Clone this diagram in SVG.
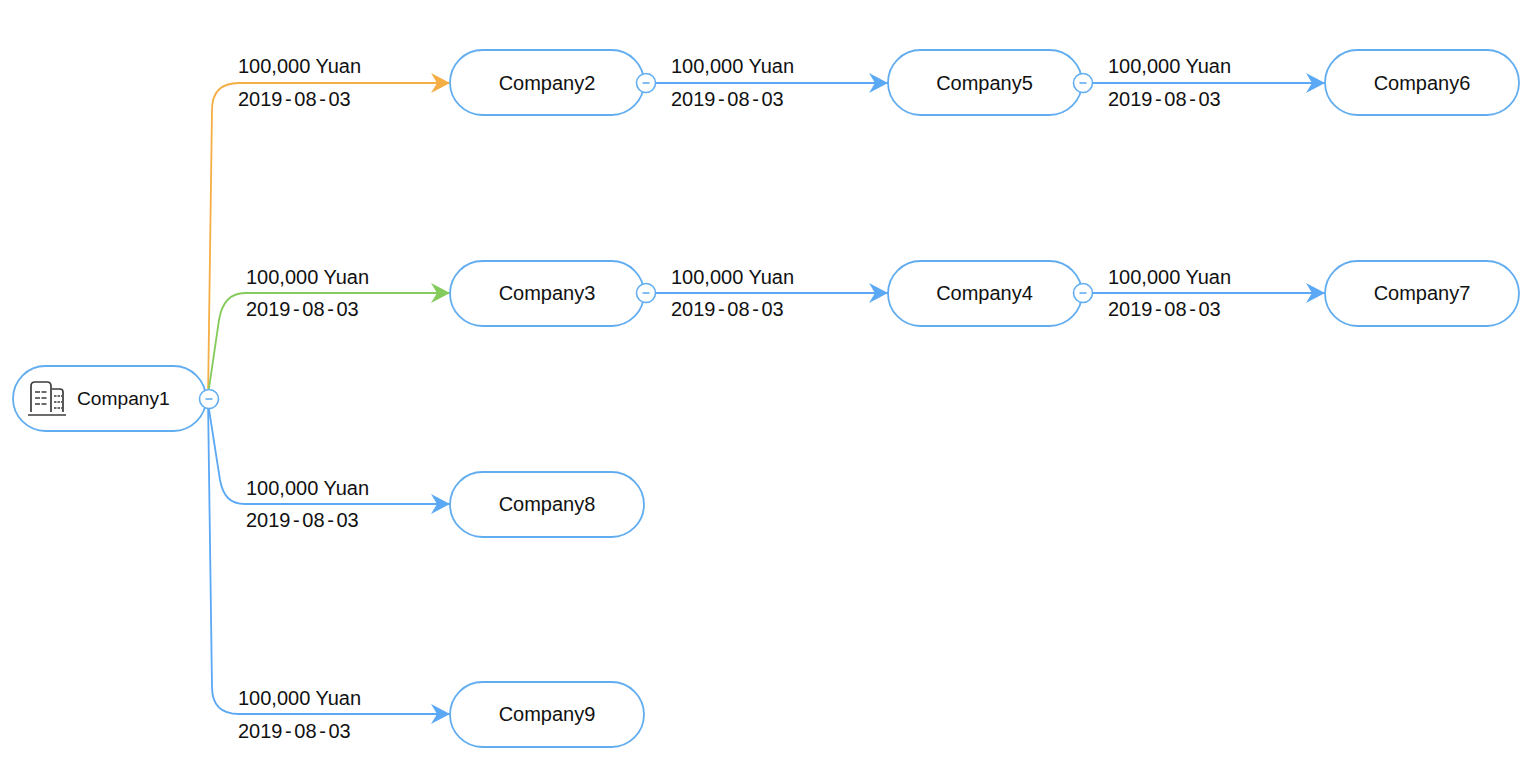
<svg xmlns="http://www.w3.org/2000/svg" width="1538" height="762" viewBox="0 0 1538 762">
<defs>
<marker id="ab" markerUnits="userSpaceOnUse" markerWidth="22" markerHeight="22" refX="20" refY="11" orient="auto"><path d="M1 1L20 11L1 21L7 11Z" fill="#5BA8F5"/></marker>
<marker id="ao" markerUnits="userSpaceOnUse" markerWidth="22" markerHeight="22" refX="20" refY="11" orient="auto"><path d="M1 1L20 11L1 21L7 11Z" fill="#F5AE45"/></marker>
<marker id="ag" markerUnits="userSpaceOnUse" markerWidth="22" markerHeight="22" refX="20" refY="11" orient="auto"><path d="M1 1L20 11L1 21L7 11Z" fill="#85CB5C"/></marker>
</defs>
<style>
.n{fill:#fff;stroke:#62ADF0;stroke-width:1.8}
.c{fill:none;stroke:#5BA8F5;stroke-width:1.8}
text{font-family:"Liberation Sans",Arial,sans-serif;font-size:20px;fill:#111}
.t{text-anchor:middle}
.h{letter-spacing:2.6px}
.b{fill:#fff;stroke:#62ADF0;stroke-width:1.6}
.m{stroke:#62ADF0;stroke-width:1.6}
.i{fill:none;stroke:#3c3c3c;stroke-width:1.7}
</style>
<rect width="1538" height="762" fill="#fff"/>
<g id="connectors">
<path class="c" style="stroke:#F5AE45" marker-end="url(#ao)" d="M208 399L212 110Q212 83 239 83L450 83"/>
<path class="c" style="stroke:#85CB5C" marker-end="url(#ag)" d="M208 395L219 320C222 302 230 293 245 293L450 293"/>
<path class="c" marker-end="url(#ab)" d="M208 403L220 480C223 496 230 504 245 504L450 504"/>
<path class="c" marker-end="url(#ab)" d="M208 399L212 687Q212 714 239 714L450 714"/>
<path class="c" marker-end="url(#ab)" d="M646 83H888"/>
<path class="c" marker-end="url(#ab)" d="M1083 83H1325"/>
<path class="c" marker-end="url(#ab)" d="M646 293H888"/>
<path class="c" marker-end="url(#ab)" d="M1083 293H1325"/>
</g>
<g id="edge-labels">
<text x="238" y="73">100,000 Yuan</text><text x="238" y="106">2019<tspan class="h" dx="2.600">-</tspan>08<tspan class="h" dx="2.600">-</tspan>03</text>
<text x="246" y="284">100,000 Yuan</text><text x="246" y="316">2019<tspan class="h" dx="2.600">-</tspan>08<tspan class="h" dx="2.600">-</tspan>03</text>
<text x="246" y="495">100,000 Yuan</text><text x="246" y="527">2019<tspan class="h" dx="2.600">-</tspan>08<tspan class="h" dx="2.600">-</tspan>03</text>
<text x="238" y="705">100,000 Yuan</text><text x="238" y="738">2019<tspan class="h" dx="2.600">-</tspan>08<tspan class="h" dx="2.600">-</tspan>03</text>
<text x="671" y="73">100,000 Yuan</text><text x="671" y="106">2019<tspan class="h" dx="2.600">-</tspan>08<tspan class="h" dx="2.600">-</tspan>03</text>
<text x="1108" y="73">100,000 Yuan</text><text x="1108" y="106">2019<tspan class="h" dx="2.600">-</tspan>08<tspan class="h" dx="2.600">-</tspan>03</text>
<text x="671" y="284">100,000 Yuan</text><text x="671" y="316">2019<tspan class="h" dx="2.600">-</tspan>08<tspan class="h" dx="2.600">-</tspan>03</text>
<text x="1108" y="284">100,000 Yuan</text><text x="1108" y="316">2019<tspan class="h" dx="2.600">-</tspan>08<tspan class="h" dx="2.600">-</tspan>03</text>
</g>
<g id="company1"><rect class="n" x="13" y="366" width="193" height="65" rx="32.5"/>
<path class="i" d="M31 412V386Q31 382 35 382H47Q51 382 51 386V412M52 389H60Q63 389 63 392V412M28 415H66"/>
<path class="i" style="stroke-width:1.4" stroke-dasharray="5 1.5" d="M35 392H47M35 398H47M35 404H47"/>
<path class="i" style="stroke-width:1.4" stroke-dasharray="2.5 1" d="M54 396H62M54 402H62M54 408H62"/>
<text x="77" y="405" style="font-size:19.2px">Company1</text></g>
<g id="toggle1"><circle class="b" cx="209" cy="399" r="9.5"/><path class="m" d="M205.500 399H212.500"/></g>
<g id="company2"><rect class="n" x="450" y="50" width="194" height="65" rx="32.5"/><text class="t" x="547" y="90">Company2</text></g>
<g id="toggle2"><circle class="b" cx="646" cy="83" r="9.500"/><path class="m" d="M642.500 83H649.500"/></g>
<g id="company5"><rect class="n" x="888" y="50" width="194" height="65" rx="32.5"/><text class="t" x="984.500" y="90">Company5</text></g>
<g id="toggle5"><circle class="b" cx="1083" cy="83" r="9.500"/><path class="m" d="M1079.500 83H1086.500"/></g>
<g id="company6"><rect class="n" x="1325" y="50" width="194" height="65" rx="32.5"/><text class="t" x="1422" y="90">Company6</text></g>
<g id="company3"><rect class="n" x="450" y="261" width="194" height="65" rx="32.5"/><text class="t" x="547" y="300">Company3</text></g>
<g id="toggle3"><circle class="b" cx="646" cy="293" r="9.500"/><path class="m" d="M642.500 293H649.500"/></g>
<g id="company4"><rect class="n" x="888" y="261" width="194" height="65" rx="32.5"/><text class="t" x="984.500" y="300">Company4</text></g>
<g id="toggle4"><circle class="b" cx="1083" cy="293" r="9.500"/><path class="m" d="M1079.500 293H1086.500"/></g>
<g id="company7"><rect class="n" x="1325" y="261" width="194" height="65" rx="32.5"/><text class="t" x="1422" y="300">Company7</text></g>
<g id="company8"><rect class="n" x="450" y="472" width="194" height="65" rx="32.5"/><text class="t" x="547" y="511">Company8</text></g>
<g id="company9"><rect class="n" x="450" y="682" width="194" height="65" rx="32.5"/><text class="t" x="547" y="721">Company9</text></g>
</svg>
